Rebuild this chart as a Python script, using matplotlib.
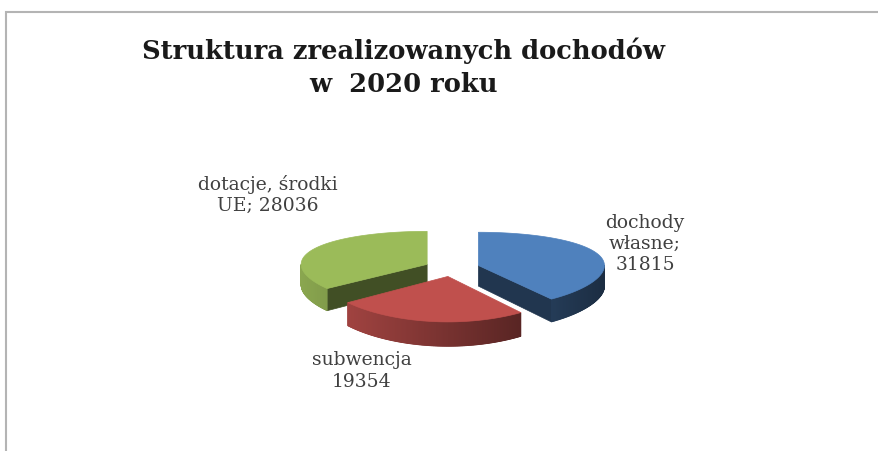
import numpy as np
import matplotlib.pyplot as plt
from matplotlib.patches import Polygon, Rectangle
from matplotlib.colors import to_rgb

# data
labels = ['dochody\nwłasne;\n31815', 'subwencja\n19354', 'dotacje, środki\nUE; 28036']
values = [31815, 19354, 28036]
colors = ['#4f81bd', '#c0504d', '#9bbb59']
title = 'Struktura zrealizowanych dochodów\nw  2020 roku'

W, H = 879, 451
fig = plt.figure(figsize=(W / 100, H / 100), dpi=100)
ax = fig.add_axes([0, 0, 1, 1])
cx, cy, R = 452, 268, 126          # pie centre / radius in px
ax.set_xlim(-cx / R, (W - cx) / R)
ax.set_ylim((cy - H) / R, cy / R)
ax.axis('off')

# frame of the original chart area
fig.patches.append(Rectangle((6 / W, -0.1), 1.2, 1 - 12 / H + 0.1, transform=fig.transFigure,
                             fill=False, edgecolor='#b4b4b4', lw=1.5))

k = 0.30    # flattening of the pie
h = 0.165   # thickness
e = 0.22    # explode
p = 0.12    # front of the pie drawn a bit taller


def shade(c, f):
    return tuple(np.clip(np.array(to_rgb(c)) * f, 0, 1))


def pt(ox, oy, r, t, z=0.0):
    gx = ox + r * np.cos(t)
    gy = oy + r * np.sin(t)
    s = 1 / (1 + p * gy)
    return gx, (k * gy + z) * s


# slice angles, clockwise from 12 o'clock
total = sum(values)
start = np.pi / 2
slices = []
for v, c in zip(values, colors):
    sweep = 2 * np.pi * v / total
    t0, t1 = start - sweep, start
    mid = (t0 + t1) / 2
    slices.append((t0, t1, e * np.cos(mid), e * np.sin(mid), c))
    start = t0

# back slices first
for t0, t1, ox, oy, c in sorted(slices, key=lambda s: -s[3]):
    cx0, cy0 = pt(ox, oy, 0, 0)
    cxb, cyb = pt(ox, oy, 0, 0, -h)
    # radial walls facing the viewer
    for t, vis in [(t1, np.cos(t1) < -1e-6), (t0, np.cos(t0) > 1e-6)]:
        if vis:
            x1, y1 = pt(ox, oy, 1, t)
            x2, y2 = pt(ox, oy, 1, t, -h)
            ax.add_patch(Polygon([(cx0, cy0), (x1, y1), (x2, y2), (cxb, cyb)],
                                 closed=True, facecolor=shade(c, 0.42), edgecolor=shade(c, 0.42), lw=0.5))
    # outer rim (front half only), shaded by angle
    ts = np.linspace(t0, t1, 300)
    for a, b in zip(ts[:-1], ts[1:]):
        if np.sin((a + b) / 2) < 0:
            f = 0.62 - 0.27 * np.cos((a + b) / 2)
            xa, ya = pt(ox, oy, 1, a)
            xb, yb = pt(ox, oy, 1, b)
            xa2, ya2 = pt(ox, oy, 1, a, -h)
            xb2, yb2 = pt(ox, oy, 1, b, -h)
            ax.add_patch(Polygon([(xa, ya), (xb, yb), (xb2, yb2), (xa2, ya2)],
                                 closed=True, facecolor=shade(c, f), edgecolor=shade(c, f), lw=0.6))
    # top face
    xs, ys = pt(ox, oy, 1, ts)
    ax.add_patch(Polygon(np.column_stack([np.r_[cx0, xs], np.r_[cy0, ys]]), closed=True,
                         facecolor=c, edgecolor=c, lw=0.5))

# texts
fig.text(404 / W, 1 - 67 / H, title, ha='center', va='center', fontsize=18.5,
         fontweight='bold', family='DejaVu Serif', color='#1a1a1a', linespacing=1.4)

label_pos = [(645, 244), (362, 371), (268, 195)]
for lab, (px, py) in zip(labels, label_pos):
    fig.text(px / W, 1 - py / H, lab, ha='center', va='center', fontsize=13.5,
             family='DejaVu Serif', color='#404040', linespacing=1.25)

fig.savefig('out.png', dpi=100, facecolor='white')
